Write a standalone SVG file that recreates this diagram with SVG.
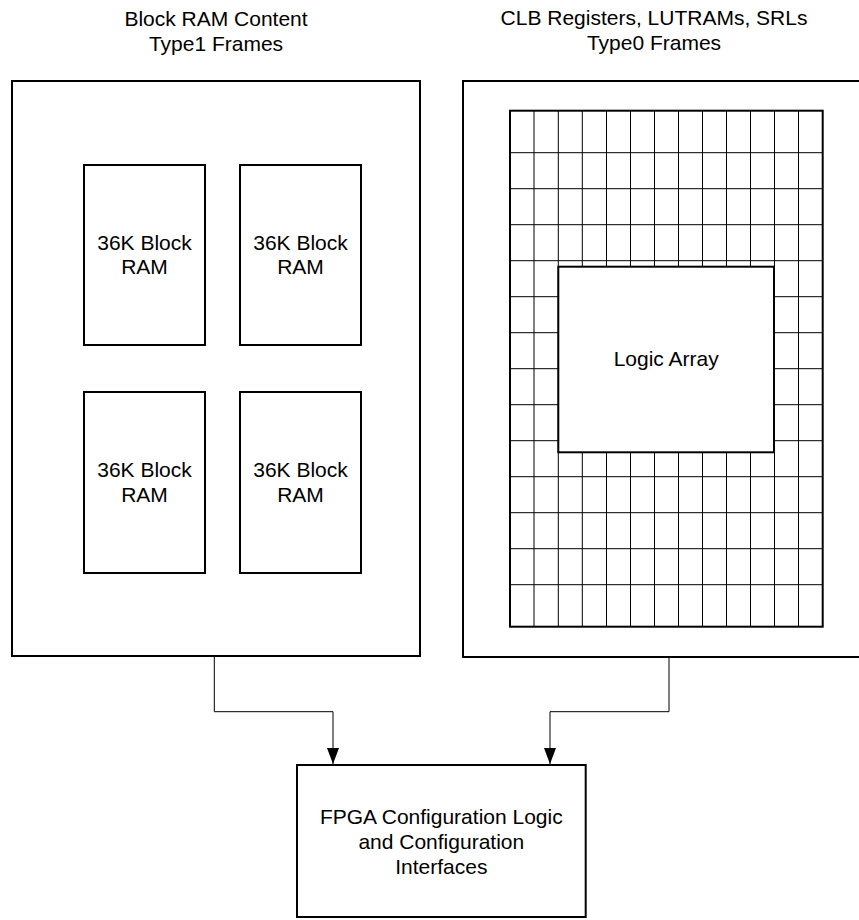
<svg xmlns="http://www.w3.org/2000/svg" width="859" height="920" viewBox="0 0 859 920">
<style>
text{font-family:"Liberation Sans",Arial,sans-serif;font-size:21px;fill:#000;text-anchor:middle}
.box{fill:#fff;stroke:#000;stroke-width:2}
.grid line{stroke:#000;stroke-width:1}
.conn{fill:none;stroke:#000;stroke-width:1}
</style>
<defs>
<marker id="arrow" markerUnits="userSpaceOnUse" markerWidth="16" markerHeight="12" refX="16" refY="6" orient="auto" viewBox="0 0 16 12">
<path d="M0,0 L16,6 L0,12 z" fill="#000"/>
</marker>
</defs>
<rect width="859" height="920" fill="#fff"/>
<g id="title-left">
<text x="216" y="26">Block RAM Content</text>
<text x="216" y="51">Type1 Frames</text>
</g>
<g id="title-right">
<text x="654" y="25">CLB Registers, LUTRAMs, SRLs</text>
<text x="654" y="50">Type0 Frames</text>
</g>
<g id="bram-region">
<rect class="box" x="12" y="81" width="408" height="575"/>
</g>
<g id="bram1">
<rect class="box" x="84" y="165" width="121" height="180"/>
<text x="144.5" y="249.5">36K Block</text>
<text x="144.5" y="274">RAM</text>
</g>
<g id="bram2">
<rect class="box" x="240" y="165" width="121" height="180"/>
<text x="300.5" y="249.5">36K Block</text>
<text x="300.5" y="274">RAM</text>
</g>
<g id="bram3">
<rect class="box" x="84" y="392" width="121" height="181"/>
<text x="144.5" y="477">36K Block</text>
<text x="144.5" y="501.5">RAM</text>
</g>
<g id="bram4">
<rect class="box" x="240" y="392" width="121" height="181"/>
<text x="300.5" y="477">36K Block</text>
<text x="300.5" y="501.5">RAM</text>
</g>
<g id="clb-region">
<rect class="box" x="463" y="81" width="420" height="576"/>
<g class="grid">
<line x1="534" y1="111" x2="534" y2="627"/>
<line x1="558.3" y1="111" x2="558.3" y2="627"/>
<line x1="582.3" y1="111" x2="582.3" y2="627"/>
<line x1="606.5" y1="111" x2="606.5" y2="627"/>
<line x1="630.5" y1="111" x2="630.5" y2="627"/>
<line x1="654.5" y1="111" x2="654.5" y2="627"/>
<line x1="678.5" y1="111" x2="678.5" y2="627"/>
<line x1="702.5" y1="111" x2="702.5" y2="627"/>
<line x1="726.5" y1="111" x2="726.5" y2="627"/>
<line x1="750.5" y1="111" x2="750.5" y2="627"/>
<line x1="774.5" y1="111" x2="774.5" y2="627"/>
<line x1="798.5" y1="111" x2="798.5" y2="627"/>
<line x1="510" y1="152.7" x2="823" y2="152.7"/>
<line x1="510" y1="188.7" x2="823" y2="188.7"/>
<line x1="510" y1="224.7" x2="823" y2="224.7"/>
<line x1="510" y1="260.7" x2="823" y2="260.7"/>
<line x1="510" y1="296.7" x2="823" y2="296.7"/>
<line x1="510" y1="332.7" x2="823" y2="332.7"/>
<line x1="510" y1="368.7" x2="823" y2="368.7"/>
<line x1="510" y1="404.7" x2="823" y2="404.7"/>
<line x1="510" y1="440.7" x2="823" y2="440.7"/>
<line x1="510" y1="476.7" x2="823" y2="476.7"/>
<line x1="510" y1="512.7" x2="823" y2="512.7"/>
<line x1="510" y1="548.7" x2="823" y2="548.7"/>
<line x1="510" y1="584.7" x2="823" y2="584.7"/>
</g>
<rect x="510" y="110.7" width="312.7" height="516" fill="none" stroke="#000" stroke-width="2"/>
</g>
<g id="logic-array">
<rect class="box" x="558.3" y="266.7" width="215.7" height="185.6"/>
<text x="666.2" y="366">Logic Array</text>
</g>
<g id="config-logic">
<rect class="box" x="297" y="765" width="288.7" height="152"/>
<text x="441.3" y="824">FPGA Configuration Logic</text>
<text x="441.3" y="849">and Configuration</text>
<text x="441.3" y="874">Interfaces</text>
</g>
<g id="connectors">
<path class="conn" d="M214.3,657 V711.7 H333 V764" marker-end="url(#arrow)"/>
<path class="conn" d="M669,658 V711.7 H550 V764" marker-end="url(#arrow)"/>
</g>
</svg>
